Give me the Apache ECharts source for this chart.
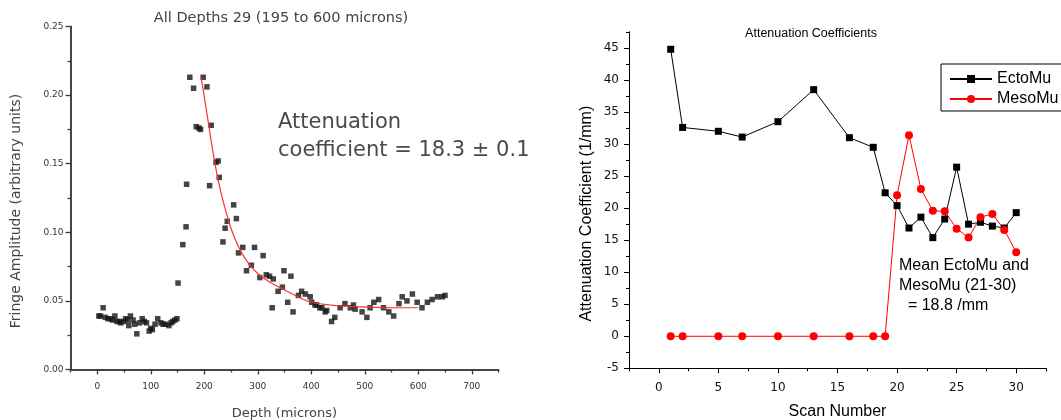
<!DOCTYPE html>
<html><head><meta charset="utf-8">
<script src="https://cdn.jsdelivr.net/npm/echarts@6/dist/echarts.min.js"></script>
<style>html,body{margin:0;padding:0;background:#fff}#c{width:1061px;height:420px}</style>
</head><body><div id="c"></div>
<script>
// ---------- Left chart: fringe amplitude vs depth ----------
const depthScatter = [3,6,11,15,20,25,29,33,37,41,44,49,53,57,59,62,67,70,74,79,84,88,92,97,100,103,108,113,119,123,128,134,138,141,145,149,
  151,160,166,167,173,180,185,190,193,198,205,210,213,222,226,228,235,239,243,255,260,264,272,279,288,294,304,310,316,322,327,329,338,346,349,356,362,366,
  376,382,389,398,401,407,410,416,420,426,429,438,444,454,463,473,479,482,495,504,510,517,526,535,545,554,564,570,579,589,598,607,617,626,636,645,650];
const amplitudeScatter = [0.039,0.039,0.045,0.038,0.037,0.037,0.036,0.039,0.035,0.035,0.034,0.035,0.037,0.036,0.032,0.039,0.036,0.033,0.026,0.034,
  0.037,0.035,0.034,0.028,0.030,0.029,0.033,0.037,0.034,0.033,0.033,0.032,0.034,0.035,0.036,0.037,
  0.063,0.091,0.104,0.135,0.213,0.205,0.177,0.176,0.175,0.213,0.206,0.134,0.178,0.151,0.152,0.140,0.093,0.103,0.108,0.120,0.110,0.085,0.089,0.072,0.076,0.089,
  0.067,0.083,0.069,0.068,0.045,0.066,0.057,0.060,0.072,0.049,0.068,0.042,
  0.054,0.057,0.055,0.053,0.049,0.047,0.047,0.045,0.045,0.042,0.043,0.035,0.038,0.045,0.048,0.045,0.047,0.044,0.042,0.038,0.045,0.049,0.051,0.045,0.042,0.039,
  0.048,0.053,0.050,0.055,0.049,0.045,0.049,0.051,0.053,0.053,0.054];
const fitDepth = [194,200,210,220,230,240,250,260,270,285,300,317,335,350,375,400,435,470,510,560,600];
const fitAmplitude = [0.213,0.199,0.174,0.150,0.131,0.116,0.103,0.093,0.085,0.076,0.070,0.065,0.061,0.058,0.053,0.049,0.047,0.046,0.0455,0.045,0.045];
const depthTicks = [0,100,200,300,400,500,600,700];
const depthMinorTicks = [-50,50,150,250,350,450,550,650,750];
const ampTicks = [0,0.05,0.10,0.15,0.20,0.25];
const ampMinorTicks = [0.025,0.075,0.125,0.175,0.225];

// ---------- Right chart: attenuation coefficients ----------
const scanNumbers = [1,2,5,7,10,13,16,18,19,20,21,22,23,24,25,26,27,28,29,30];
const ectoMu = [44.8,32.6,32.0,31.1,33.5,38.5,31.0,29.5,22.4,20.4,16.9,18.6,15.4,18.3,26.4,17.5,17.8,17.2,16.9,19.3];
const mesoMu = [0,0,0,0,0,0,0,0,0,22.0,31.4,23.0,19.6,19.5,16.8,15.4,18.6,19.1,16.6,13.1];
const scanTicks = [0,5,10,15,20,25,30];
const scanMinorTicks = [-2.5,2.5,7.5,12.5,17.5,22.5,27.5,32.5];
const coefTicks = [-5,0,5,10,15,20,25,30,35,40,45];
const coefMinorTicks = [-2.5,2.5,7.5,12.5,17.5,22.5,27.5,32.5,37.5,42.5,47.5];

const chart = echarts.init(document.getElementById('c'), null, {renderer: 'canvas'});
const LG = '#3a3a3a';
const leftFont = 'DejaVu Sans';
const rightFont = 'Liberation Sans';

function minorAxis(gridIndex, min, max, ticks, pos) {
  const c = gridIndex === 0 ? LG : '#000';
  const w = gridIndex === 0 ? 1.3 : 1;
  return {gridIndex, type: 'value', min, max, position: pos,
    axisLine: {show: true, onZero: false, lineStyle: {color: c, width: gridIndex === 0 ? 1.5 : 1}},
    axisLabel: {show: false}, splitLine: {show: false},
    axisTick: {show: true, customValues: ticks, length: 3, lineStyle: {color: c, width: w}}};
}

const option = {
  animation: false,
  backgroundColor: '#fff',
  title: [
    {text: 'All Depths 29 (195 to 600 microns)', left: 281, top: 11, textAlign: 'center', padding: 0,
     textStyle: {fontFamily: leftFont, fontSize: 14.5, fontWeight: 'normal', color: '#444'}},
    {text: 'Attenuation Coefficients', left: 811, top: 27, textAlign: 'center', padding: 0,
     textStyle: {fontFamily: rightFont, fontSize: 12.5, fontWeight: 'normal', color: '#000'}}
  ],
  grid: [
    {left: 70.5, top: 26.5, width: 428, height: 343, containLabel: false, outerBoundsMode: 'none'},
    {left: 629, top: 32, width: 417, height: 336.3, containLabel: false, outerBoundsMode: 'none'}
  ],
  legend: {
    data: ['EctoMu', 'MesoMu'], orient: 'vertical', left: 941, top: 64,
    itemWidth: 42, itemHeight: 10, itemGap: 4, padding: [7, 5, 4, 8],
    borderColor: '#000', borderWidth: 1, borderRadius: 0,
    textStyle: {fontFamily: rightFont, fontSize: 16, color: '#000'}
  },
  xAxis: [
    {gridIndex: 0, type: 'value', min: -50, max: 750, position: 'bottom',
     axisLine: {show: true, onZero: false, lineStyle: {color: LG, width: 1.5}},
     axisTick: {show: true, customValues: depthTicks, length: 5, lineStyle: {color: LG, width: 1.3}},
     axisLabel: {customValues: depthTicks, margin: 13, fontFamily: leftFont, fontSize: 9, color: '#333'},
     splitLine: {show: false},
     name: 'Depth (microns)', nameLocation: 'middle', nameGap: 38,
     nameTextStyle: {fontFamily: leftFont, fontSize: 13, color: '#444'}},
    minorAxis(0, -50, 750, depthMinorTicks, 'bottom'),
    {gridIndex: 1, type: 'value', min: -2.5, max: 32.5, position: 'bottom',
     axisLine: {show: true, onZero: false, lineStyle: {color: '#000', width: 1}},
     axisTick: {show: true, customValues: scanTicks, length: 5, lineStyle: {color: '#000'}},
     axisLabel: {customValues: scanTicks, margin: 14, fontFamily: leftFont, fontSize: 12, color: '#111'},
     splitLine: {show: false},
     name: 'Scan Number', nameLocation: 'middle', nameGap: 35,
     nameTextStyle: {fontFamily: rightFont, fontSize: 16, color: '#000'}},
    minorAxis(1, -2.5, 32.5, scanMinorTicks, 'bottom')
  ],
  yAxis: [
    {gridIndex: 0, type: 'value', min: 0, max: 0.25, position: 'left',
     axisLine: {show: true, onZero: false, lineStyle: {color: LG, width: 1.5}},
     axisTick: {show: true, customValues: ampTicks, length: 5, lineStyle: {color: LG, width: 1.3}},
     axisLabel: {customValues: ampTicks, margin: 7, fontFamily: leftFont, fontSize: 9, color: '#333',
       formatter: v => v.toFixed(2)},
     splitLine: {show: false},
     name: 'Fringe Amplitude (arbitrary units)', nameLocation: 'middle', nameGap: 47,
     nameTextStyle: {fontFamily: leftFont, fontSize: 14, color: '#444', padding: [0, 26, 0, 0]}},
    minorAxis(0, 0, 0.25, ampMinorTicks, 'left'),
    {gridIndex: 1, type: 'value', min: -5, max: 47.5, position: 'left',
     axisLine: {show: true, onZero: false, lineStyle: {color: '#000', width: 1}},
     axisTick: {show: true, customValues: coefTicks, length: 5, lineStyle: {color: '#000'}},
     axisLabel: {customValues: coefTicks, margin: 10, fontFamily: leftFont, fontSize: 12, color: '#111'},
     splitLine: {show: false},
     name: 'Attenuation Coefficient (1/mm)', nameLocation: 'middle', nameGap: 34,
     nameTextStyle: {fontFamily: rightFont, fontSize: 16, color: '#000', padding: [0, 27, 0, 0]}},
    minorAxis(1, -5, 47.5, coefMinorTicks, 'left')
  ],
  series: [
    {type: 'scatter', xAxisIndex: 0, yAxisIndex: 0, symbol: 'rect', symbolSize: 5.5,
     itemStyle: {color: '#151515'}, z: 2,
     data: depthScatter.map((d, i) => [d, amplitudeScatter[i]])},
    {type: 'line', xAxisIndex: 0, yAxisIndex: 0, smooth: 0.35, showSymbol: false, z: 3,
     lineStyle: {color: '#ff3030', width: 1.2},
     data: fitDepth.map((d, i) => [d, fitAmplitude[i]])},
    {type: 'line', name: 'EctoMu', xAxisIndex: 2, yAxisIndex: 2, symbol: 'rect', symbolSize: 7,
     showAllSymbol: true, lineStyle: {color: '#000', width: 1}, itemStyle: {color: '#000'},
     data: scanNumbers.map((s, i) => [s, ectoMu[i]])},
    {type: 'line', name: 'MesoMu', xAxisIndex: 2, yAxisIndex: 2, symbol: 'circle', symbolSize: 8,
     showAllSymbol: true, lineStyle: {color: '#ff0000', width: 1}, itemStyle: {color: '#ff0000'},
     data: scanNumbers.map((s, i) => [s, mesoMu[i]])}
  ],
  graphic: [
    {type: 'text', left: 278, top: 109, z: 10,
     style: {text: 'Attenuation\ncoefficient = 18.3 \u00b1 0.1', font: '21px "DejaVu Sans"', fill: '#4a4a4a', lineHeight: 28}},
    {type: 'text', left: 899, top: 256, z: 10,
     style: {text: 'Mean EctoMu and\nMesoMu (21-30)\n  = 18.8 /mm', font: '16px "Liberation Sans"', fill: '#000', lineHeight: 20}}
  ]
};
chart.setOption(option);
</script>
</body></html>
